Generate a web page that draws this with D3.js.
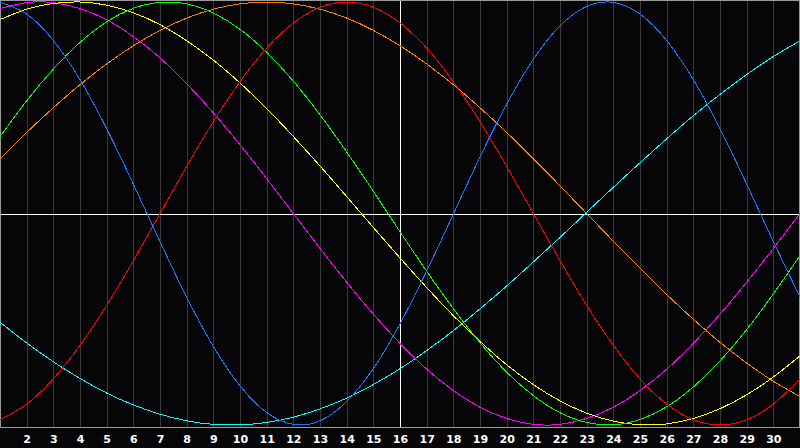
<!DOCTYPE html>
<html>
<head>
<meta charset="utf-8">
<script src="https://cdn.jsdelivr.net/npm/d3@7"></script>
<style>
  body { margin: 0; background: #060608; }
  svg { display: block; }
</style>
</head>
<body>
<svg width="800" height="448"></svg>
<script>
// days along the bottom, one value per day for each cycle
const days = d3.range(1, 32);
const tickDays = d3.range(2, 31);
const centerDay = 16;

const physical = [0.998, 0.943, 0.818, 0.633, 0.401, 0.139, -0.133, -0.396, -0.629, -0.815, -0.941, -0.997, -0.980, -0.889, -0.733, -0.522, -0.272, -0.003, 0.267, 0.517, 0.729, 0.887, 0.979, 0.998, 0.943, 0.818, 0.633, 0.401, 0.139, -0.133, -0.396];
const emotional = [-0.975, -0.901, -0.782, -0.623, -0.434, -0.223, 0, 0.223, 0.434, 0.623, 0.782, 0.901, 0.975, 1, 0.975, 0.901, 0.782, 0.623, 0.434, 0.223, 0, -0.223, -0.434, -0.623, -0.782, -0.901, -0.975, -1, -0.975, -0.901, -0.782];
const intellectual = [0.363, 0.533, 0.683, 0.809, 0.906, 0.970, 0.998, 0.991, 0.948, 0.871, 0.762, 0.626, 0.467, 0.291, 0.105, -0.086, -0.273, -0.450, -0.611, -0.750, -0.861, -0.942, -0.988, -0.999, -0.974, -0.914, -0.820, -0.697, -0.549, -0.380, -0.199];
const aesthetic = [0.917, 0.966, 0.993, 1.000, 0.985, 0.949, 0.893, 0.817, 0.725, 0.617, 0.496, 0.364, 0.225, 0.080, -0.066, -0.210, -0.350, -0.483, -0.605, -0.715, -0.809, -0.886, -0.944, -0.982, -0.999, -0.995, -0.969, -0.923, -0.857, -0.773, -0.673];
const intuitive = [0.969, 0.997, 0.997, 0.969, 0.916, 0.837, 0.736, 0.614, 0.476, 0.325, 0.165, 0, -0.165, -0.325, -0.476, -0.614, -0.736, -0.837, -0.916, -0.969, -0.997, -0.997, -0.969, -0.916, -0.837, -0.736, -0.614, -0.476, -0.325, -0.165, 0];
const awareness = [0.259, 0.383, 0.5, 0.609, 0.707, 0.793, 0.866, 0.924, 0.966, 0.991, 1, 0.991, 0.966, 0.924, 0.866, 0.793, 0.707, 0.609, 0.5, 0.383, 0.259, 0.131, 0, -0.131, -0.259, -0.383, -0.5, -0.609, -0.707, -0.793, -0.866];
const spiritual = [-0.514, -0.612, -0.701, -0.780, -0.849, -0.905, -0.949, -0.980, -0.997, -0.999, -0.988, -0.963, -0.924, -0.873, -0.809, -0.734, -0.648, -0.554, -0.451, -0.343, -0.229, -0.113, 0.006, 0.124, 0.240, 0.353, 0.462, 0.563, 0.657, 0.742, 0.816];

const series = [
  {name: 'spiritual', values: spiritual, color: '#00ffff'},
  {name: 'awareness', values: awareness, color: '#ff8000'},
  {name: 'intuitive', values: intuitive, color: '#ff00ff'},
  {name: 'aesthetic', values: aesthetic, color: '#ffff00'},
  {name: 'intellectual', values: intellectual, color: '#00ff00'},
  {name: 'emotional', values: emotional, color: '#ff0000'},
  {name: 'physical', values: physical, color: '#1a75ff'}
];

const svg = d3.select('svg');
const width = +svg.attr('width');
const plotBottom = 427;

const x = d3.scaleLinear().domain([1, 31]).range([0, width]);
const y = d3.scaleLinear().domain([-1, 1]).range([425, 2]);

const g = svg.append('g');

// day grid
g.selectAll('line.grid')
  .data(tickDays)
  .enter()
  .append('line')
  .attr('class', 'grid')
  .attr('x1', d => Math.round(x(d)) + 0.5)
  .attr('x2', d => Math.round(x(d)) + 0.5)
  .attr('y1', 0)
  .attr('y2', plotBottom)
  .attr('stroke', d => d === centerDay ? '#ffffff' : '#393939')
  .attr('stroke-width', 1);

// zero line
g.append('line')
  .attr('x1', 0).attr('x2', width)
  .attr('y1', Math.round(y(0)) + 0.5).attr('y2', Math.round(y(0)) + 0.5)
  .attr('stroke', '#ffffff');

// frame
g.append('rect')
  .attr('x', 0.5).attr('y', 0.5)
  .attr('width', width - 1).attr('height', plotBottom)
  .attr('fill', 'none')
  .attr('stroke', '#9a9a9a');

const line = d3.line()
  .x((d, i) => x(days[i]))
  .y(d => y(d))
  .curve(d3.curveNatural);

g.selectAll('path.cycle')
  .data(series)
  .enter()
  .append('path')
  .attr('class', 'cycle')
  .attr('d', d => line(d.values))
  .attr('fill', 'none')
  .attr('stroke', d => d.color)
  .attr('stroke-width', 1)
  .attr('shape-rendering', 'crispEdges');

// day labels
const axis = d3.axisBottom(x)
  .tickValues(tickDays)
  .tickSize(0)
  .tickPadding(8)
  .tickFormat(d3.format('d'));

const ax = svg.append('g')
  .attr('transform', `translate(0,${plotBottom})`)
  .call(axis);
ax.select('.domain').remove();
ax.selectAll('text')
  .attr('fill', '#ffffff')
  .style('font-family', '"DejaVu Sans", Verdana, sans-serif')
  .style('font-weight', 'bold')
  .style('font-size', '11px');
</script>
</body>
</html>
